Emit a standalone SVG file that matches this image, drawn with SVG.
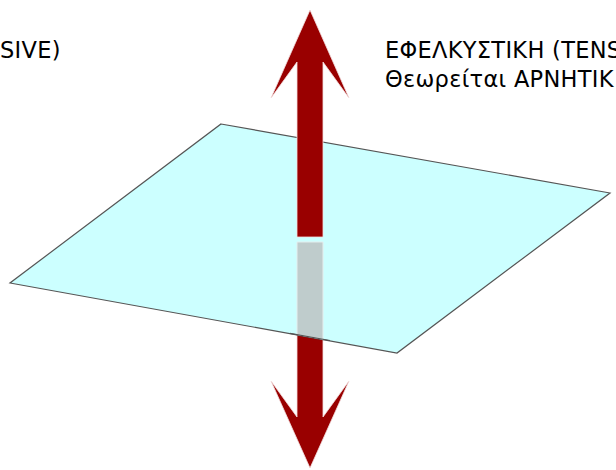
<svg xmlns="http://www.w3.org/2000/svg" width="616" height="470" viewBox="0 0 616 470">
<style>
.lbl{font-family:"DejaVu Sans","Noto Sans",sans-serif;font-size:22.5px;letter-spacing:0.3px;fill:#000}
.red{fill:#990000;stroke:#f4dede;stroke-width:0.8}
</style>
<rect width="616" height="470" fill="#fff"/>
<g id="arrow-down">
<polygon class="red" points="297,330 323,330 323,417 349,381 310,468 271,381 297,417"/>
</g>
<g id="plane">
<polygon points="221,124 610,193 397,353 10,283" fill="#ccffff" stroke="#555" stroke-width="1.2" stroke-linejoin="miter"/>
</g>
<g id="shaft-through">
<polygon points="297,242 323,242 323,339.2 297,334.5" fill="#bfcccc" stroke="#e4eeee" stroke-width="1"/>
<line x1="290" y1="333.3" x2="330" y2="340.5" stroke="#555" stroke-width="1.2"/>
</g>
<g id="arrow-up">
<polygon class="red" points="310,10 349,98 323,62 323,237 297,237 297,62 271,98"/>
</g>
<g id="labels">
<text class="lbl" x="0" y="58">SIVE)</text>
<text class="lbl" x="385" y="58">ΕΦΕΛΚΥΣΤΙΚΗ (TENS</text>
<text class="lbl" x="385" y="87">Θεωρείται ΑΡΝΗΤΙΚ</text>
</g>
</svg>
